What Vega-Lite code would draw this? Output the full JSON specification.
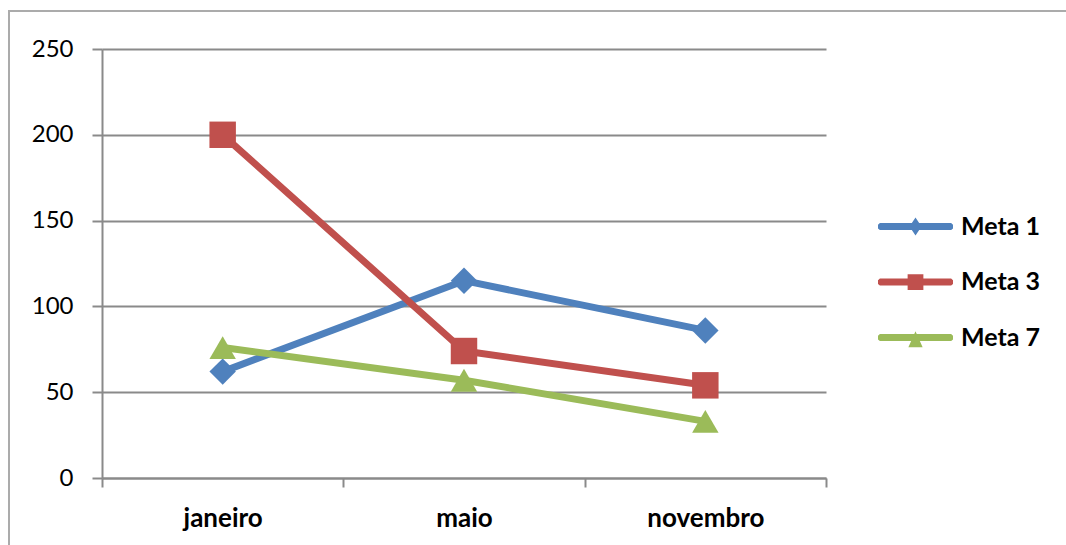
{
  "$schema": "https://vega.github.io/schema/vega-lite/v6.json",
  "width": 1066,
  "height": 540,
  "autosize": {"type": "none"},
  "padding": {"left": 9, "top": 11, "right": 0, "bottom": 0},
  "background": "#ffffff",
  "data": {
    "values": [
      {"mes": "janeiro", "serie": "Meta 1", "valor": 62},
      {"mes": "maio", "serie": "Meta 1", "valor": 115},
      {"mes": "novembro", "serie": "Meta 1", "valor": 86},
      {"mes": "janeiro", "serie": "Meta 3", "valor": 200},
      {"mes": "maio", "serie": "Meta 3", "valor": 74},
      {"mes": "novembro", "serie": "Meta 3", "valor": 54},
      {"mes": "janeiro", "serie": "Meta 7", "valor": 76},
      {"mes": "maio", "serie": "Meta 7", "valor": 57},
      {"mes": "novembro", "serie": "Meta 7", "valor": 33}
    ]
  },
  "encoding": {
    "x": {
      "field": "mes",
      "type": "nominal",
      "sort": ["janeiro", "maio", "novembro"],
      "bandPosition": 0.5,
      "scale": {"type": "band", "paddingInner": 0, "paddingOuter": 0, "range": [93, 817]},
      "axis": {
        "title": null,
        "offset": -73,
        "tickBand": "extent",
        "labelAngle": 0,
        "labelFont": "Lato",
        "labelFontSize": 26,
        "labelFontWeight": "bold",
        "labelColor": "#000000",
        "labelPadding": 18,
        "tickSize": 9,
        "tickWidth": 2,
        "tickColor": "#8a8a8a",
        "domainColor": "#8a8a8a",
        "domainWidth": 2,
        "grid": false
      }
    },
    "y": {
      "field": "valor",
      "type": "quantitative",
      "scale": {"domain": [0, 250], "nice": false, "range": [467, 38]},
      "axis": {
        "title": null,
        "offset": -93,
        "values": [0, 50, 100, 150, 200, 250],
        "labelFont": "Lato",
        "labelFontSize": 24,
        "labelColor": "#000000",
        "labelPadding": 19,
        "tickSize": 10,
        "tickWidth": 2,
        "tickColor": "#8a8a8a",
        "domainColor": "#8a8a8a",
        "domainWidth": 2,
        "grid": true,
        "gridColor": "#8a8a8a",
        "gridWidth": 2
      }
    }
  },
  "layer": [
    {
      "mark": {"type": "line", "strokeWidth": 7, "strokeJoin": "round"},
      "encoding": {
        "color": {
          "field": "serie",
          "type": "nominal",
          "scale": {"domain": ["Meta 1", "Meta 3", "Meta 7"], "range": ["#4f81bd", "#c0504d", "#9bbb59"]},
          "legend": null
        }
      }
    },
    {
      "mark": {"type": "point", "filled": true, "opacity": 1, "size": 700},
      "encoding": {
        "color": {
          "field": "serie",
          "type": "nominal",
          "scale": {"domain": ["Meta 1", "Meta 3", "Meta 7"], "range": ["#4f81bd", "#c0504d", "#9bbb59"]},
          "legend": null
        },
        "shape": {
          "field": "serie",
          "type": "nominal",
          "scale": {"domain": ["Meta 1", "Meta 3", "Meta 7"], "range": ["diamond", "square", "triangle-up"]},
          "legend": null
        }
      }
    },
    {
      "mark": {"type": "point", "filled": true, "opacity": 0, "size": 5625},
      "encoding": {
        "color": {
          "field": "serie",
          "type": "nominal",
          "scale": {"domain": ["Meta 1", "Meta 3", "Meta 7"], "range": ["#4f81bd", "#c0504d", "#9bbb59"]},
          "legend": {
            "title": null,
            "orient": "none",
            "legendX": 869,
            "legendY": 178,
            "symbolSize": 5625,
            "symbolOpacity": 1,
            "symbolStrokeWidth": 0,
            "labelFont": "Lato",
            "labelFontSize": 25,
            "labelFontWeight": "bold",
            "labelColor": "#000000",
            "labelOffset": 8,
            "rowPadding": 4.5
          }
        },
        "shape": {
          "field": "serie",
          "type": "nominal",
          "scale": {
            "domain": ["Meta 1", "Meta 3", "Meta 7"],
            "range": [
              "M-0.95,-0.093L0.95,-0.093L1,-0.05L1,0.05L0.95,0.093L-0.95,0.093L-1,0.05L-1,-0.05ZM0,-0.24L0.16,0L0,0.24L-0.16,0Z",
              "M-0.95,-0.093L0.95,-0.093L1,-0.05L1,0.05L0.95,0.093L-0.95,0.093L-1,0.05L-1,-0.05ZM-0.21,-0.21L0.21,-0.21L0.21,0.21L-0.21,0.21Z",
              "M-0.95,-0.093L0.95,-0.093L1,-0.05L1,0.05L0.95,0.093L-0.95,0.093L-1,0.05L-1,-0.05ZM0,-0.17L0.19,0.26L-0.19,0.26Z"
            ]
          },
          "legend": {
            "title": null,
            "orient": "none",
            "legendX": 869,
            "legendY": 178,
            "symbolSize": 5625,
            "symbolOpacity": 1,
            "symbolStrokeWidth": 0,
            "labelFont": "Lato",
            "labelFontSize": 25,
            "labelFontWeight": "bold",
            "labelColor": "#000000",
            "labelOffset": 8,
            "rowPadding": 4.5
          }
        }
      }
    }
  ],
  "resolve": {
    "scale": {"color": "independent", "shape": "independent"},
    "legend": {"color": "independent", "shape": "independent"}
  },
  "config": {
    "view": {"stroke": "#ababab", "strokeWidth": 2, "fill": "#ffffff"}
  }
}
